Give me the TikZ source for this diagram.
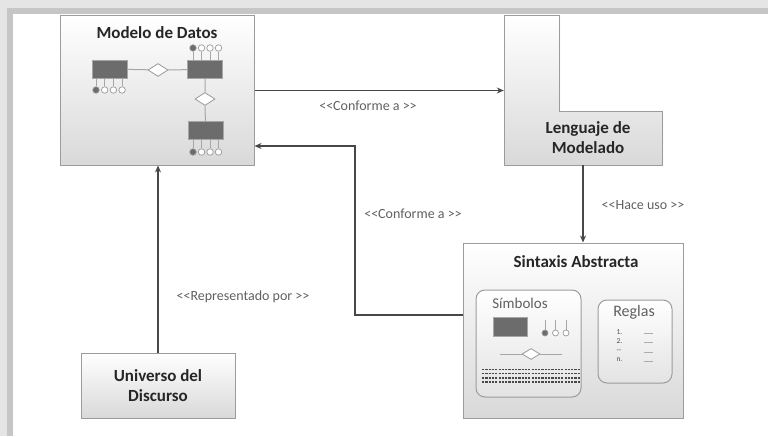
\documentclass[tikz,border=0pt]{standalone}
\usepackage{fontspec}
\setmainfont{Carlito}[Ligatures=TeXOff]
\usetikzlibrary{positioning,arrows.meta,shapes.geometric,shadows}

\definecolor{linegray}{HTML}{474747}
\definecolor{boxline}{HTML}{9C9C9C}
\definecolor{entgray}{HTML}{6C6C6C}
\definecolor{lblgray}{HTML}{606060}

\tikzset{
  box/.style={draw=boxline, line width=1pt, top color=white, bottom color=gray!30,
    drop shadow={shadow xshift=1.2pt, shadow yshift=-1.2pt, fill=gray!35}},
  inbox/.style={draw=boxline, line width=1pt, rounded corners=9pt, top color=white, bottom color=gray!22},
  title/.style={font=\fontsize{17}{20}\selectfont\bfseries, text=black!85, align=center},
  lbl/.style={font=\fontsize{14}{16}\selectfont, text=lblgray},
  conn/.style={draw=linegray, line width=1.4pt, -{Stealth[length=7pt,width=6pt]}},
  entity/.style={draw=gray!70, line width=0.8pt, fill=entgray, minimum width=35pt, minimum height=18pt, inner sep=0pt},
  attr/.style={draw=gray!80, line width=0.7pt, circle, fill=white, minimum size=6.5pt, inner sep=0pt},
  rel/.style={draw=gray!80, line width=0.8pt, diamond, fill=white, minimum width=20pt, minimum height=13pt, inner sep=0pt},
  rline/.style={draw=gray!70, line width=1pt}
}

\begin{document}
\begin{tikzpicture}[x=1pt,y=-1pt]
\useasboundingbox (0,0) rectangle (770,436);

% frame shadow
\fill[gray!20] (0,0) rectangle (768,8);
\fill[gray!45] (8,8) rectangle (768,14);
\fill[gray!20] (0,8) rectangle (7,436);
\fill[gray!45] (7,8) rectangle (13,436);

% Modelo de Datos
\node (modelo) [box, minimum width=194pt, minimum height=149pt] at (157,90.5) {};
\node (modelotit) [title] at (157,33) {Modelo de Datos};
\node (ent1) [entity] at (109.5,69) {};
\node (ent2) [entity] at (205,69.5) {};
\node (ent3) [entity] at (205.5,130.5) {};
\node (rel1) [rel] at (158,70) {};
\node (rel2) [rel] at (205,99) {};
\draw[rline] (ent1) -- (rel1) -- (ent2);
\draw[rline] (ent2) -- (rel2) -- (ent3);
\foreach \i/\c in {0/entgray,1/white,2/white,3/white} {
  \node (a1\i) [attr, fill=\c] at (96+\i*8.7,90) {};
  \draw[rline, line width=0.8pt] (a1\i) -- (a1\i |- ent1.south);
  \node (a2\i) [attr, fill=\c] at (193+\i*8.5,48) {};
  \draw[rline, line width=0.8pt] (a2\i) -- (a2\i |- ent2.north);
  \node (a3\i) [attr, fill=\c] at (193+\i*8.5,152) {};
  \draw[rline, line width=0.8pt] (a3\i) -- (a3\i |- ent3.south);
}

% Lenguaje de Modelado
\draw[box] (504,16) -- (559,16) -- (559,111) -- (662,111) -- (662,165) -- (504,165) -- cycle;
\node (lenguaje) [minimum width=158pt, minimum height=149pt] at (583,90.5) {};
\node (lengtit) [title] at (588,138) {Lenguaje de\\Modelado};

% Sintaxis Abstracta
\node (sintaxis) [box, minimum width=220pt, minimum height=175pt] at (573,330.5) {};
\node (sintit) [title] at (576,262) {Sintaxis Abstracta};
\node (simbolos) [inbox, minimum width=105pt, minimum height=107pt] at (528.5,343.5) {};
\node (simtit) [lbl, font=\fontsize{15}{17}\selectfont] at (520,303) {Símbolos};
\node (sament) [entity, minimum width=34pt, minimum height=19pt] at (510,326.5) {};
\foreach \i/\c in {0/entgray,1/white,2/white} {
  \node (sa\i) [attr, fill=\c, minimum size=6pt] at (545+\i*10.5,333) {};
  \draw[rline, line width=0.9pt] (sa\i.north) -- ([yshift=10pt]sa\i.north);
}
\node (samrel) [rel, minimum width=18pt, minimum height=11pt] at (531,354) {};
\draw[rline] (samrel) -- ++(-31,0);
\draw[rline] (samrel) -- ++(31,0);
\foreach \y in {369.5,373.5,378,382}
  \draw[linegray, line width=1.6pt, dash pattern=on 2.2pt off 1.1pt] (482,\y) -- (580,\y);

\node (reglas) [inbox, minimum width=74pt, minimum height=83pt] at (635,341.5) {};
\node (regtit) [lbl, font=\fontsize{16}{18}\selectfont] at (634,312) {Reglas};
\foreach \t/\y in {1./332,2./341.5,--/351,n./360} {
  \node [font=\fontsize{7.5}{8}\selectfont, text=black!70, anchor=west] at (613,\y) {\t};
  \draw[gray!65, line width=0.6pt] (644,\y+1) -- (653,\y+1);
}

% Universo del Discurso
\node (universo) [box, minimum width=154pt, minimum height=65pt] at (158,385.5) {};
\node (univtit) [title] at (158,386) {Universo del\\Discurso};

% connectors
\draw[conn] (modelo.east) -- (lenguaje.west);
\draw[conn] ([yshift=15.5pt]sintaxis.west) -| (355,146) -- ([yshift=-55.5pt]modelo.east);
\draw[conn] (lenguaje.south) -- (lenguaje.south |- sintaxis.north);
\draw[conn] (universo.north) -- (universo.north |- modelo.south);

\node (lbl1) [lbl] at (368,106) {<<Conforme a >>};
\node (lbl2) [lbl] at (413,214) {<<Conforme a >>};
\node (lbl3) [lbl] at (643,205) {<<Hace uso >>};
\node (lbl4) [lbl] at (243,297) {<<Representado por >>};

\end{tikzpicture}
\end{document}
